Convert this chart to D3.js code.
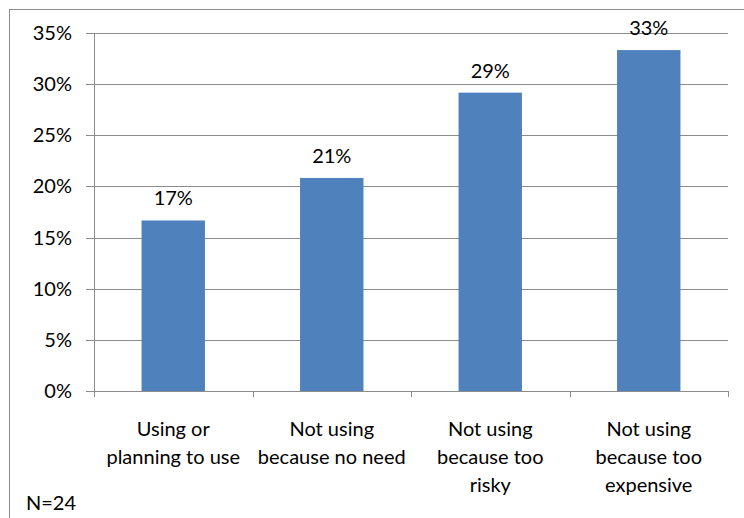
<!DOCTYPE html>
<html><head><meta charset="utf-8">
<script src="https://cdn.jsdelivr.net/npm/d3@7"></script>
<style>body{margin:0;background:#fff}svg{display:block}text{font-family:Lato,"Open Sans",sans-serif;fill:#000}</style>
</head><body><svg id="c" width="744" height="518"></svg>
<script>
const categories = [["Using or","planning to use"],["Not using","because no need"],["Not using","because too","risky"],["Not using","because too","expensive"]];
const values = [16.67, 20.83, 29.17, 33.33];
const valueLabels = ["17%","21%","29%","33%"];
const yTicks = [0,5,10,15,20,25,30,35];
const note = "N=24";

const svg = d3.select("#c");
const fs = 20;
svg.append("rect").attr("x",9.5).attr("y",9.5).attr("width",744).attr("height",520).attr("fill","none").attr("stroke","#8c8c8c");
const m = {l:94, r:728, t:33, b:391};
const x = d3.scaleBand().domain(d3.range(values.length)).range([m.l,m.r]).paddingInner(0.6).paddingOuter(0.3);
const y = d3.scaleLinear().domain([0,35]).range([m.b,m.t]);

svg.append("g").selectAll("line").data(yTicks).join("line")
  .attr("x1",m.l-8).attr("x2",m.r).attr("y1",d=>Math.round(y(d))+0.5).attr("y2",d=>Math.round(y(d))+0.5)
  .attr("stroke","#8c8c8c").attr("stroke-width",1);
svg.append("g").selectAll("text").data(yTicks).join("text")
  .attr("x",72).attr("y",d=>y(d)).attr("dy","0.35em").attr("text-anchor","end").attr("font-size",fs)
  .text(d=>d+"%");
svg.append("line").attr("x1",m.l+0.5).attr("x2",m.l+0.5).attr("y1",m.t).attr("y2",m.b+6).attr("stroke","#8c8c8c");
svg.append("g").selectAll("line").data(d3.range(values.length+1)).join("line")
  .attr("x1",d=>Math.round(m.l+d*(m.r-m.l)/values.length)+0.5).attr("x2",d=>Math.round(m.l+d*(m.r-m.l)/values.length)+0.5)
  .attr("y1",m.b).attr("y2",m.b+6).attr("stroke","#8c8c8c");
svg.append("g").selectAll("rect").data(values).join("rect")
  .attr("x",(d,i)=>x(i)).attr("width",x.bandwidth()).attr("y",d=>y(d)).attr("height",d=>y(0)-y(d)).attr("fill","#4F81BD");
svg.append("g").selectAll("text").data(values).join("text")
  .attr("x",(d,i)=>x(i)+x.bandwidth()/2).attr("y",d=>y(d)-22).attr("dy","0.35em").attr("text-anchor","middle").attr("font-size",fs)
  .text((d,i)=>valueLabels[i]);
const cg = svg.append("g").selectAll("text").data(categories).join("text")
  .attr("x",(d,i)=>x(i)+x.bandwidth()/2).attr("y",429).attr("text-anchor","middle").attr("font-size",fs);
cg.selectAll("tspan").data(d=>d).join("tspan")
  .attr("x",function(){return d3.select(this.parentNode).attr("x");})
  .attr("y",(d,j)=>429+j*28).attr("dy","0.35em").text(d=>d);
svg.append("text").attr("x",26).attr("y",503).attr("dy","0.35em").attr("font-size",fs).text(note);
</script></body></html>
